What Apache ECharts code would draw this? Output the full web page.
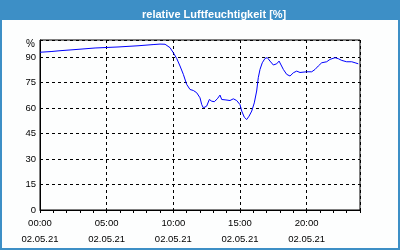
<!DOCTYPE html>
<html>
<head>
<meta charset="utf-8">
<script src="https://cdn.jsdelivr.net/npm/echarts@6/dist/echarts.min.js"></script>
<style>
html, body { margin: 0; padding: 0; background: #fff; }
#chart { width: 400px; height: 250px; }
</style>
</head>
<body>
<div id="chart"></div>
<script>
// hour of day (02.05.21) and relative humidity in %
var hours = [0, 0.83, 1.5, 2.85, 4.13, 5.85, 7.35, 8.48, 9.0, 9.38, 9.53, 9.75,
    10.0, 10.25, 10.5, 10.75, 11.0, 11.25, 11.5, 11.75, 12.0, 12.13, 12.25, 12.5,
    12.7, 12.88, 13.07, 13.3, 13.5, 13.63, 13.88, 14.25, 14.5, 14.75, 15.0, 15.13,
    15.32, 15.5, 15.68, 15.88, 16.07, 16.25, 16.37, 16.5, 16.67, 16.88, 17.05, 17.25,
    17.5, 17.75, 17.93, 18.08, 18.25, 18.5, 18.75, 19.0, 19.25, 19.5, 20.0, 20.38,
    20.63, 20.87, 21.13, 21.5, 21.75, 22.13, 22.37, 22.63, 23.0, 23.38, 23.63, 23.87];
var humidity = [92.8, 93.2, 93.7, 94.5, 95.3, 95.9, 96.6, 97.3, 97.6, 97.5, 97.2, 95.5,
    92.5, 89.2, 84.7, 79.8, 73.9, 70.9, 70.3, 69.0, 66.0, 62.0, 60.1, 61.1,
    65.0, 64.0, 63.7, 65.4, 67.6, 65.0, 64.8, 64.4, 65.4, 64.4, 62.0, 58.2,
    54.6, 53.2, 55.2, 58.2, 63.0, 70.0, 77.8, 82.7, 86.6, 89.2, 89.6, 87.6,
    85.3, 86.0, 87.6, 86.6, 82.7, 79.8, 78.8, 80.7, 81.7, 80.9, 81.3, 81.3,
    82.7, 84.7, 86.6, 87.2, 88.6, 89.6, 89.0, 88.0, 87.2, 87.2, 86.6, 86.0];
var labelHours = [0, 5, 10, 15, 20];
var dateLabel = '02.05.21';

var font = 'Liberation Sans';
var points = hours.map(function (h, i) { return [h, humidity[i]]; });

var myChart = echarts.init(document.getElementById('chart'));

option = {
    animation: false,
    backgroundColor: '#fdfefe',
    title: {
        text: 'relative Luftfeuchtigkeit [%]',
        left: 137,
        top: 4,
        z: 10,
        textStyle: { color: '#fff', fontSize: 11, fontWeight: 'bold', fontFamily: font }
    },
    graphic: [
        { type: 'rect', shape: { x: 0, y: 0, width: 400, height: 20 }, style: { fill: '#3d8fc6' } },
        { type: 'rect', shape: { x: 1, y: 1, width: 398, height: 248 },
          style: { fill: null, stroke: '#3d8fc6', lineWidth: 2 } }
    ],
    grid: {
        left: 40, right: 40, top: 40, bottom: 40,
        show: true, borderColor: '#000', borderWidth: 1
    },
    xAxis: [
        {
            type: 'value', min: 0, max: 24, interval: 1, position: 'bottom',
            axisLine: { lineStyle: { color: '#000', width: 1 } },
            axisTick: { length: 3, lineStyle: { color: '#000' } },
            axisLabel: {
                margin: 6, lineHeight: 15.5, fontSize: 9.5, color: '#000', fontFamily: font,
                formatter: function (v) {
                    if (labelHours.indexOf(v) < 0) return '';
                    return (v < 10 ? '0' + v : v) + ':00\n' + dateLabel;
                }
            },
            splitLine: { show: false }
        },
        {
            type: 'value', min: 0, max: 24, interval: 5, position: 'top',
            axisLine: { show: false }, axisTick: { show: false }, axisLabel: { show: false },
            splitLine: { lineStyle: { color: '#000', type: [3, 3], width: 1 } }
        }
    ],
    yAxis: {
        type: 'value', min: 0, max: 100, interval: 15,
        name: '%', nameLocation: 'end', nameGap: -4,
        nameTextStyle: { align: 'right', verticalAlign: 'middle', padding: [0, 5, 0, 0],
            fontSize: 10, color: '#000', fontFamily: font },
        axisLine: { show: true, lineStyle: { color: '#000', width: 1 } },
        axisTick: { show: false },
        axisLabel: {
            margin: 4, fontSize: 9.5, color: '#000', fontFamily: font,
            formatter: function (v) { return v === 100 ? '' : v; }
        },
        splitLine: { lineStyle: { color: '#000', type: [3, 3], width: 1 } }
    },
    series: [
        {
            type: 'line',
            xAxisIndex: 0,
            data: points,
            showSymbol: false,
            lineStyle: { color: '#0000ff', width: 1 }
        }
    ]
};

myChart.setOption(option);
</script>
</body>
</html>
